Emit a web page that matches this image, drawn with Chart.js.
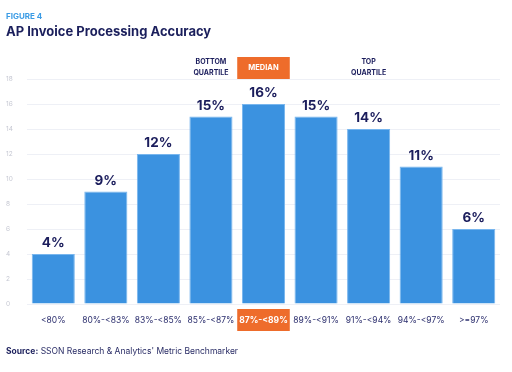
<!DOCTYPE html>
<html>
<head>
<meta charset="utf-8">
<script src="https://cdn.jsdelivr.net/npm/chart.js@4"></script>
<style>
  body { margin: 0; background: #fff; }
  #wrap { position: relative; width: 512px; height: 372px; font-family: Inter, "DejaVu Sans", sans-serif; }
  #chart { position: absolute; left: 0; top: 0; }
  .fig { position: absolute; left: 6px; top: 11px; font-size: 8px; font-weight: 700; color: #3a9be5; }
  .title { position: absolute; left: 6px; top: 23px; font-size: 13px; font-weight: 700; color: #1b1f5c; }
  .source { position: absolute; left: 6px; top: 346px; font-size: 8.5px; color: #2a2d66; }
  .source b { color: #1b1f5c; }
</style>
</head>
<body>
<div id="wrap">
  <canvas id="chart" width="512" height="372"></canvas>
  <div class="fig">FIGURE 4</div>
  <div class="title">AP Invoice Processing Accuracy</div>
  <div class="source"><b>Source:</b> SSON Research &amp; Analytics' Metric Benchmarker</div>
</div>
<script>
// data
const categories = ["<80%", "80%-<83%", "83%-<85%", "85%-<87%", "87%-<89%", "89%-<91%", "91%-<94%", "94%-<97%", ">=97%"];
const values = [4, 9, 12, 15, 16, 15, 14, 11, 6];
const yTicks = [0, 2, 4, 6, 8, 10, 12, 14, 16, 18];
const medianIndex = 4;
const bottomIndex = 3;
const topIndex = 6;

const navy = "#1b1d5c";
const orange = "#ee6c2b";

// labels, quartile notes and the orange boxes
const overlay = {
  id: "overlay",
  beforeDraw(chart) {
    const ctx = chart.ctx;
    const x = chart.scales.x;
    const half = (x.getPixelForValue(1) - x.getPixelForValue(0)) / 2;
    const cx = x.getPixelForValue(medianIndex);
    ctx.save();
    ctx.fillStyle = orange;
    ctx.fillRect(cx - half, 309, half * 2, 22);
    ctx.fillRect(cx - half, 57, half * 2, 22);
    ctx.restore();
  },
  afterDatasetsDraw(chart) {
    const ctx = chart.ctx;
    const x = chart.scales.x;
    const meta = chart.getDatasetMeta(0);
    ctx.save();
    ctx.textAlign = "center";
    ctx.textBaseline = "alphabetic";
    ctx.fillStyle = navy;
    ctx.font = "700 13.5px Inter, 'DejaVu Sans', sans-serif";
    meta.data.forEach((bar, i) => {
      ctx.fillText(values[i] + "%", bar.x, bar.y - 7);
    });

    ctx.textBaseline = "middle";
    ctx.font = "700 7px Inter, 'DejaVu Sans', sans-serif";
    [bottomIndex, topIndex].forEach((idx, k) => {
      const px = x.getPixelForValue(idx);
      ctx.fillText(k === 0 ? "BOTTOM" : "TOP", px, 62);
      ctx.fillText("QUARTILE", px, 73);
    });
    ctx.fillStyle = "#fff";
    ctx.font = "700 7.5px Inter, 'DejaVu Sans', sans-serif";
    ctx.fillText("MEDIAN", x.getPixelForValue(medianIndex), 68);
    ctx.restore();
  }
};

new Chart(document.getElementById("chart"), {
  type: "bar",
  data: {
    labels: categories,
    datasets: [{
      data: values,
      backgroundColor: "#3b92e0",
      borderColor: "#78b6ee",
      borderWidth: 1,
      barPercentage: 0.82,
      categoryPercentage: 1
    }]
  },
  options: {
    responsive: false,
    animation: false,
    layout: { padding: { left: 6, right: 12, top: 79, bottom: 40 } },
    plugins: {
      legend: { display: false },
      tooltip: { enabled: false }
    },
    scales: {
      x: {
        grid: { display: false },
        border: { display: false },
        afterFit(scale) { scale.height = 28; },
        ticks: {
          padding: 3,
          maxRotation: 0,
          autoSkip: false,
          color: (c) => c.index === medianIndex ? "#fff" : "#2c2f6e",
          font: (c) => ({ family: "Inter, 'DejaVu Sans', sans-serif", size: 8.5, weight: c.index === medianIndex ? "700" : "400" })
        }
      },
      y: {
        min: 0,
        max: 18,
        afterFit(scale) { scale.width = 21; },
        afterBuildTicks(scale) { scale.ticks = yTicks.map(v => ({ value: v })); },
        grid: { color: "#eef0f6", drawTicks: false },
        border: { display: false },
        ticks: {
          crossAlign: "far",
          padding: 4,
          color: "#c5c7d2",
          font: { family: "Inter, 'DejaVu Sans', sans-serif", size: 6.5 }
        }
      }
    }
  },
  plugins: [overlay]
});
</script>
</body>
</html>
